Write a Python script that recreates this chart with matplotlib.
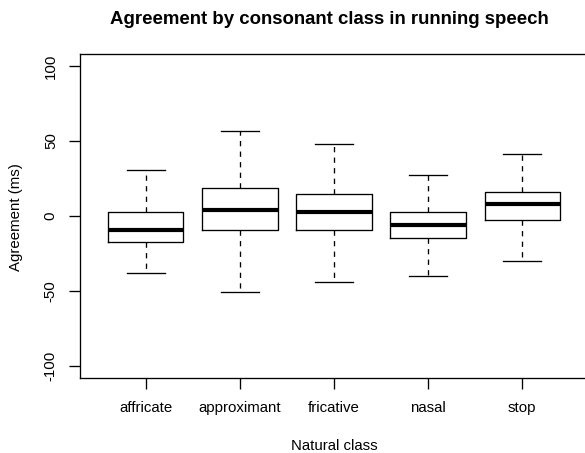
import matplotlib
matplotlib.use("Agg")
import matplotlib.pyplot as plt

plt.rcParams['font.family'] = ['Liberation Sans', 'DejaVu Sans']

# Box statistics (ms)
classes = ['affricate', 'approximant', 'fricative', 'nasal', 'stop']
whisker_low = [-37.7, -50.6, -43.7, -39.9, -29.8]
q1 = [-17.5, -9.3, -9.1, -14.4, -2.5]
median = [-9.5, 3.8, 2.9, -5.8, 7.8]
q3 = [2.5, 18.6, 14.8, 2.7, 16.0]
whisker_high = [30.4, 57.0, 48.1, 27.1, 41.3]

y_ticks = [-100, -50, 0, 50, 100]

W, H = 585, 453
fig = plt.figure(figsize=(W / 100, H / 100), dpi=100)
ax = fig.add_axes([79.8 / W, 1 - 378 / H, 508.4 / W, 324 / H])

stats = []
for i, name in enumerate(classes):
    stats.append(dict(label=name, whislo=whisker_low[i], q1=q1[i], med=median[i],
                      q3=q3[i], whishi=whisker_high[i], fliers=[]))

lw = 0.95
ax.bxp(stats, positions=range(1, len(classes) + 1), widths=0.8, capwidths=0.4,
       showfliers=False, patch_artist=False,
       boxprops=dict(color='black', linewidth=lw),
       whiskerprops=dict(color='black', linewidth=lw, linestyle=(0, (4, 4))),
       capprops=dict(color='black', linewidth=lw),
       medianprops=dict(color='black', linewidth=3.0, solid_capstyle='butt'))

ax.set_xlim(0.3, len(classes) + 0.7)
ax.set_ylim(-108, 108)
ax.set_yticks(y_ticks)
ax.set_yticklabels([str(v) for v in y_ticks], rotation=90, va='center')
ax.set_xticks(range(1, len(classes) + 1))
ax.set_xticklabels(classes)

for s in ax.spines.values():
    s.set_linewidth(lw)
    s.set_color('black')
ax.tick_params(axis='both', direction='out', length=7.8, width=lw,
               labelsize=10.8, color='black')
ax.tick_params(axis='x', pad=8.5)
ax.tick_params(axis='y', pad=8.0)

fig.text(329 / W, 1 - 23.5 / H, 'Agreement by consonant class in running speech',
         ha='center', va='baseline', fontsize=13.4, fontweight='bold')
fig.text(334 / W, 1 - 450 / H, 'Natural class', ha='center', va='baseline',
         fontsize=10.8)
fig.text(15.7 / W, 1 - 217 / H, 'Agreement (ms)', ha='center', va='center',
         rotation=90, fontsize=10.8)

fig.savefig('out.png', dpi=100)
